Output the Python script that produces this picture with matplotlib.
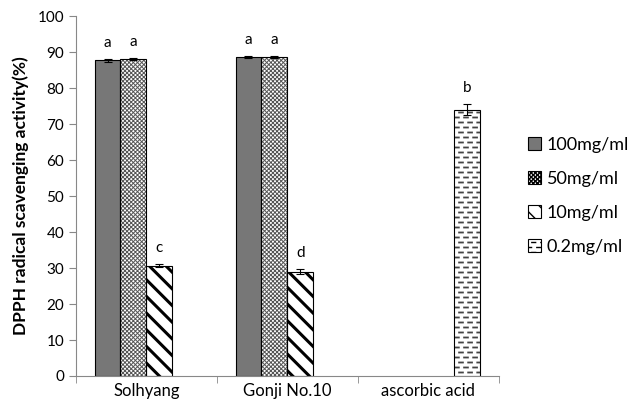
import warnings
import numpy as np
import matplotlib.pyplot as plt
from matplotlib import hatch as mhatch
from matplotlib.path import Path

plt.rcParams['font.family'] = ['Lato', 'DejaVu Sans']
warnings.filterwarnings('ignore')


# staggered short dashes, used for the '=' hatch symbol
class DashRows(mhatch.HatchPatternBase):
    rows = 20
    per_row = 11

    def __init__(self, hatch, density):
        self.on = '=' in hatch
        self.num_vertices = self.rows * self.per_row * 2 if self.on else 0

    def set_vertices_and_codes(self, vertices, codes):
        k = 0
        for r in range(self.rows):
            y = (r + 0.5) / self.rows
            off = 0.05 if r % 2 == 0 else 0.5
            for j in range(self.per_row):
                x0 = (j + off) / self.per_row
                vertices[k] = (x0, y)
                vertices[k + 1] = (x0 + 0.42 / self.per_row, y)
                codes[k] = Path.MOVETO
                codes[k + 1] = Path.LINETO
                k += 2


mhatch._hatch_types.append(DashRows)

samples = ['Solhyang', 'Gonji No.10', 'ascorbic acid']
doses = ['100mg/ml', '50mg/ml', '10mg/ml', '0.2mg/ml']

# mean scavenging activity (%) per dose; NaN where not measured
means = [
    [87.7, 88.7, np.nan],
    [88.2, 88.6, np.nan],
    [30.7, 29.0, np.nan],
    [np.nan, np.nan, 74.0],
]
errs = [
    [0.4, 0.2, 0],
    [0.3, 0.2, 0],
    [0.4, 0.7, 0],
    [0, 0, 1.6],
]
letters = [
    ['a', 'a', ''],
    ['a', 'a', ''],
    ['c', 'd', ''],
    ['', '', 'b'],
]

faces = ['#777777', 'white', 'white', 'white']
hatches = [None, 'xxxxxxxx', '\\\\', '=']
hatch_cols = ['#777777', '#555555', 'black', '#444444']
hatch_lw = [1.0, 0.7, 2.2, 1.3]

fig = plt.figure(figsize=(6.33, 4.15), dpi=100)
ax = fig.add_axes([0.12, 0.094, 0.668, 0.867])

x = np.arange(len(samples))
w = 0.184
handles = []
for i in range(len(doses)):
    pos = x + (i - 1.5) * w
    vals = np.array(means[i], dtype=float)
    # hatch layer, then a black outline on top
    bars = ax.bar(pos, vals, w, color=faces[i], edgecolor=hatch_cols[i],
                  linewidth=0, hatch=hatches[i], zorder=2)
    for b in bars:
        try:
            b.set_hatch_linewidth(hatch_lw[i])
        except AttributeError:
            pass
    ax.bar(pos, vals, w, fill=False, edgecolor='black', linewidth=0.8,
           zorder=2.5)
    handles.append(bars)
    ax.errorbar(pos, vals, yerr=errs[i], fmt='none', ecolor='black',
                elinewidth=0.8, capsize=3, capthick=0.8, zorder=3)
    for p, v, e, t in zip(pos, vals, errs[i], letters[i]):
        if t:
            ax.text(p, v + e + 2.5, t, ha='center', va='bottom', fontsize=11)

ax.set_xlim(-0.5, 2.5)
ax.set_ylim(0, 100)
ax.set_yticks(range(0, 101, 10))
ax.set_xticks(x)
ax.set_xticklabels(samples, fontsize=12)
ax.set_xticks([-0.5, 0.5, 1.5, 2.5], minor=True)
ax.tick_params(axis='x', which='major', length=0, pad=5)
ax.tick_params(axis='x', which='minor', length=5, color='#888888')
ax.tick_params(axis='y', length=5, color='#888888', labelsize=11)
for s in ['top', 'right']:
    ax.spines[s].set_visible(False)
for s in ['left', 'bottom']:
    ax.spines[s].set_color('#888888')

ax.set_ylabel('DPPH radical scavenging activity(%)', fontsize=12.5,
              fontweight='bold', labelpad=6)

leg = ax.legend(handles, doses, loc='center left', bbox_to_anchor=(1.03, 0.5),
                frameon=False, fontsize=13, handlelength=0.75,
                handleheight=0.75, handletextpad=0.3, labelspacing=1.0)
for h in leg.legend_handles:
    h.set_edgecolor('black')
    h.set_linewidth(0.8)

plt.savefig('out.png', dpi=100)
